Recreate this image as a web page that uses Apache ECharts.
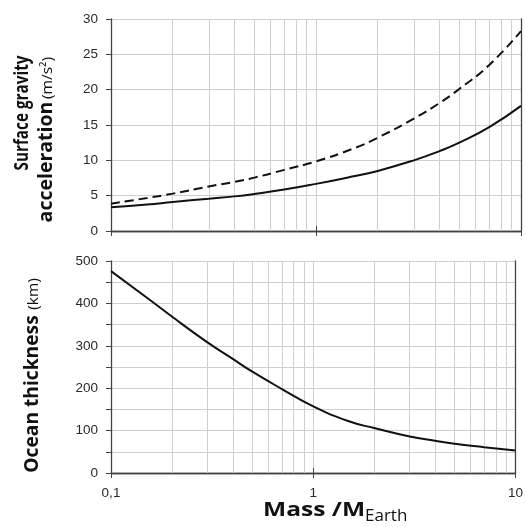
<!DOCTYPE html>
<html>
<head>
<meta charset="utf-8">
<script src="https://cdn.jsdelivr.net/npm/echarts@6/dist/echarts.min.js"></script>
<style>
  html, body { margin: 0; padding: 0; background: #fff; }
  #chart { width: 526px; height: 527px; }
</style>
</head>
<body>
<div id="chart"></div>
<script>
const mass = [0.1, 0.15, 0.2, 0.3, 0.4, 0.5, 0.7, 1, 1.5, 2, 3, 4, 5, 7, 10];
// surface gravity, m/s2
const gravitySolid = [3.35, 3.75, 4.1, 4.57, 4.9, 5.24, 5.86, 6.67, 7.7, 8.5, 10.0, 11.3, 12.5, 14.7, 17.7];
const gravityDashed = [3.86, 4.67, 5.29, 6.3, 6.95, 7.55, 8.65, 9.85, 11.6, 13.2, 15.9, 18.1, 20.1, 23.5, 28.3];
// ocean thickness, km
const oceanThickness = [476, 414, 369, 308, 269, 239, 198, 157, 122, 106, 86, 76, 69, 61, 53];
// minor vertical grid lines of the log axis
const minorMass = [0.2, 0.3, 0.4, 0.5, 0.6, 0.7, 0.8, 0.9, 2, 3, 4, 5, 6, 7, 8, 9];

const AXIS = "#444";
const GRID = "#cfcfcf";
const TEXT = "#2a2a2a";
const INK = "#111";
const TICK_FONT = "'Liberation Sans'";
const TITLE_FONT = "'Open Sans'";

const zip = (xs, ys) => xs.map((x, i) => [x, ys[i]]);

function massAxis(gridIndex, position, withLabels) {
  return {
    type: "log",
    logBase: 10,
    gridIndex,
    position,
    min: 0.1,
    max: 10,
    axisLine: { show: true, lineStyle: { color: AXIS, width: 1.3 } },
    axisTick: { show: true, inside: false, length: 5, lineStyle: { color: AXIS } },
    axisLabel: {
      show: withLabels,
      margin: 13,
      color: TEXT,
      fontFamily: TICK_FONT,
      fontSize: 13.5,
      formatter: (v) => String(+v.toFixed(2)).replace(".", ","),
    },
    splitLine: { show: position === "bottom", lineStyle: { color: GRID, width: 1 } },
  };
}

function valueAxis(gridIndex, max, interval, labelStep) {
  return {
    type: "value",
    gridIndex,
    position: "left",
    min: 0,
    max,
    interval,
    axisLine: { show: true, lineStyle: { color: AXIS, width: 1.3 } },
    axisTick: { show: true, inside: false, length: 5, lineStyle: { color: AXIS } },
    axisLabel: {
      margin: 13,
      color: TEXT,
      fontFamily: TICK_FONT,
      fontSize: 13.5,
      formatter: (v) => (v % labelStep === 0 ? String(v) : ""),
    },
    splitLine: { show: true, lineStyle: { color: GRID, width: 1 } },
  };
}

function frameAxis(gridIndex, max) {
  return {
    type: "value",
    gridIndex,
    position: "right",
    min: 0,
    max,
    axisLine: { show: true, lineStyle: { color: AXIS, width: 1.3 } },
    axisTick: { show: false },
    axisLabel: { show: false },
    splitLine: { show: false },
  };
}

// invisible series only carrying the minor log grid lines
function minorGrid(xAxisIndex, yAxisIndex, data) {
  return {
    type: "line",
    xAxisIndex,
    yAxisIndex,
    data,
    z: 1,
    silent: true,
    showSymbol: false,
    lineStyle: { opacity: 0 },
    markLine: {
      silent: true,
      symbol: "none",
      label: { show: false },
      lineStyle: { color: GRID, type: "solid", width: 1 },
      data: minorMass.map((m) => ({ xAxis: m })),
    },
  };
}

function curve(xAxisIndex, yAxisIndex, data, dashed) {
  return {
    type: "line",
    xAxisIndex,
    yAxisIndex,
    data,
    z: 5,
    smooth: 0.5,
    showSymbol: false,
    symbol: "none",
    lineStyle: { color: INK, width: 2, type: dashed ? [9, 5] : "solid" },
  };
}

// vertical title pieces: the source image is stretched sideways,
// so text is scaled along / across its baseline to match
function sideText(text, x, y, weight, size, along, across) {
  return {
    type: "text",
    x, y,
    rotation: Math.PI / 2,
    scaleX: along,
    scaleY: across,
    style: {
      text,
      font: `${weight} ${size}px ${TITLE_FONT}`,
      fill: INK,
      align: "center",
      verticalAlign: "middle",
    },
  };
}

const chart = echarts.init(document.getElementById("chart"));
chart.setOption({
  animation: false,
  grid: [
    { left: 111, right: 5, top: 19, height: 212 },
    { left: 111, right: 5, top: 261, height: 212 },
  ],
  xAxis: [
    massAxis(0, "bottom", false),
    massAxis(0, "top", false),
    massAxis(1, "bottom", true),
    massAxis(1, "top", false),
  ],
  yAxis: [
    valueAxis(0, 30, 5, 5),
    frameAxis(0, 30),
    valueAxis(1, 500, 50, 100),
    frameAxis(1, 500),
  ],
  series: [
    minorGrid(0, 0, zip(mass, gravitySolid)),
    minorGrid(2, 2, zip(mass, oceanThickness)),
    curve(0, 0, zip(mass, gravitySolid), false),
    curve(0, 0, zip(mass, gravityDashed), true),
    curve(2, 2, zip(mass, oceanThickness), false),
  ],
  graphic: [
    sideText("Surface gravity", 23, 113, "bold", 15, 1.02, 1.27),
    sideText("acceleration", 47, 162, "bold", 15, 1.3, 1.27),
    sideText("(m/s²)", 48, 78, "normal", 12, 1.3, 1.27),
    sideText("Ocean thickness", 33, 394, "bold", 15, 1.28, 1.27),
    sideText("(km)", 34, 294, "normal", 12, 1.28, 1.27),
    {
      type: "text",
      x: 263, y: 510,
      scaleX: 1.26,
      style: {
        text: "Mass /M",
        font: `bold 19.5px ${TITLE_FONT}`,
        fill: INK,
        align: "left",
        verticalAlign: "middle",
      },
    },
    {
      type: "text",
      x: 365, y: 516,
      style: {
        text: "Earth",
        font: `normal 17px ${TITLE_FONT}`,
        fill: INK,
        align: "left",
        verticalAlign: "middle",
      },
    },
  ],
});
</script>
</body>
</html>
